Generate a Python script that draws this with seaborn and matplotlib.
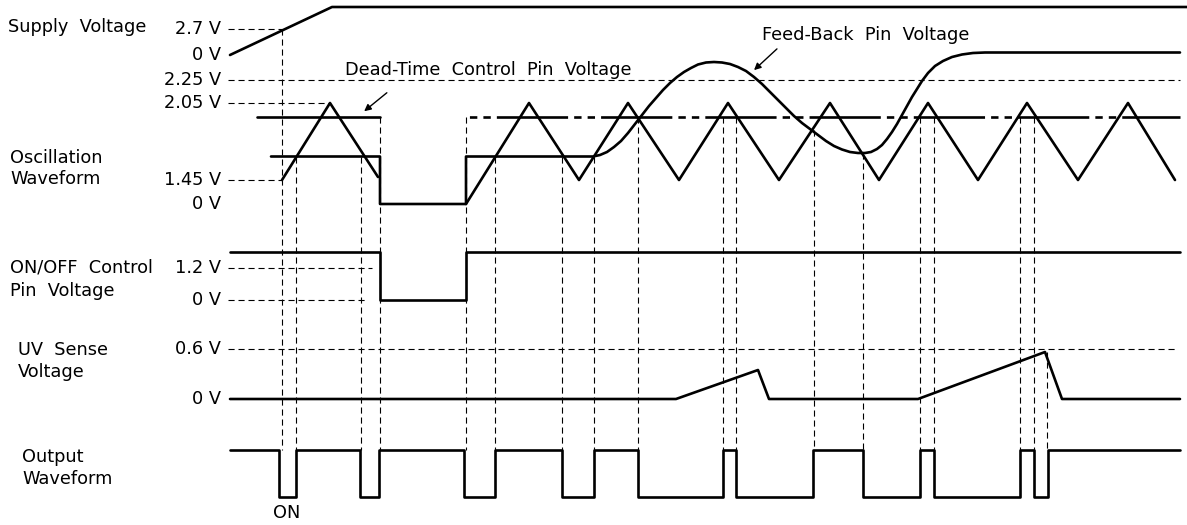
import numpy as np
import pandas as pd
import matplotlib
matplotlib.use("Agg")
import matplotlib.pyplot as plt
import seaborn as sns

# ---- time axis is in drawing units (left -> right), levels are heights above each lane's 0 V ----

# Supply voltage
supply_t = [230, 332, 1187]
supply_v = [0, 48, 48]

# Oscillation (triangle) waveform, two pieces (before and after the ON/OFF gap)
osc1_t = [282, 330, 378]
osc1_v = [24, 101, 27]
osc2_t = [466, 529, 579, 628, 679, 728, 779, 830, 879, 928, 978, 1027, 1078, 1128, 1175]
osc2_v = [0, 101, 24, 101, 24, 101, 24, 101, 24, 101, 24, 101, 24, 101, 24]

# Feed-back pin voltage
fb_t = [271, 380, 380, 466, 466, 593, 600, 607, 614, 621, 628, 635, 642, 649, 656,
        663, 670, 677, 684, 691, 698, 706, 714, 722, 730, 738, 746, 754, 762, 770,
        778, 786, 794, 802, 810, 818, 826, 834, 842, 850, 858, 865, 871, 877, 882,
        887, 892, 897, 902, 907, 912, 917, 922, 928, 935, 943, 952, 962, 973, 985, 1180]
fb_v = [47.5, 47.5, 0, 0, 47.5, 47.5, 49, 52, 57, 63, 71, 80, 89, 98, 106,
        114, 121, 127, 132, 136, 139.5, 141.5, 142, 141.5, 140, 137, 133, 127, 120, 112,
        104, 96, 88, 81, 75, 69, 63, 58, 54.5, 52, 51, 51, 52, 55, 59,
        65, 72, 80, 89, 98, 107, 115, 123, 131, 138, 143, 147, 149.5, 151, 151.5, 151.5]

# Dead-time control pin voltage
dt_level = 87.5
dt1_t = [257, 380]
dt2_t = [466, 1180]

# ON/OFF control pin voltage
onoff_t = [230, 380, 380, 466, 466, 1180]
onoff_v = [48, 48, 0, 0, 48, 48]

# UV sense voltage
uv_t = [230, 676, 758, 769, 918, 1045, 1062, 1180]
uv_v = [0, 0, 29, 0, 0, 47, 0, 0]

# Output waveform edges
out_edges = [279, 296, 360, 379, 464, 495, 562, 594, 638, 723, 736, 813, 863, 920,
             934, 1020, 1034, 1048]
out_hi, out_lo = 47, 0

# Timing guides: (time, lane, level where the guide starts)
guides = [(282, "supply", 26), (296, "osc", 47.5), (361, "osc", 47.5), (380, "osc", 87.5),
          (466, "osc", 87.5), (495, "osc", 47.5), (562, "osc", 47.5), (594, "osc", 47.5),
          (638, "osc", 87.5), (723, "osc", 87.5), (736, "osc", 87.5), (814, "osc", 74),
          (863, "osc", 51), (920, "osc", 87.5), (934, "osc", 87.5), (1020, "osc", 87.5),
          (1034, "osc", 87.5), (1047, "uv", 47)]

# Reference levels: (lane, label, level, dashed line end)
ref_levels = [("supply", "2.7 V", 26, 282), ("supply", "0 V", 0, None),
              ("osc", "2.25 V", 124, 1180), ("osc", "2.05 V", 101, 330),
              ("osc", "1.45 V", 24, 282), ("osc", "0 V", 0, None),
              ("onoff", "1.2 V", 32, 372), ("onoff", "0 V", 0, 366),
              ("uv", "0.6 V", 50, 1178), ("uv", "0 V", 0, None)]

lane_names = [("supply", ["Supply  Voltage"]), ("osc", ["Oscillation", "Waveform"]),
              ("onoff", ["ON/OFF  Control", "Pin  Voltage"]), ("uv", ["UV  Sense", "Voltage"]),
              ("out", ["Output", "Waveform"])]

# ---- layout ----
lane_base = {"supply": 55, "osc": 204, "onoff": 300, "uv": 399, "out": 497}
name_pos = {"supply": (8, 27, 0), "osc": (10, 158, 21), "onoff": (10, 268, 23),
            "uv": (18, 350, 22), "out": (22, 457, 22)}

sns.set_theme(style="white")
plt.rcParams["font.family"] = ["DejaVu Sans"]
FS = 12.8

fig = plt.figure(figsize=(11.87, 5.25), dpi=100)
ax = fig.add_axes([0, 0, 1, 1])
ax.set_xlim(0, 1187)
ax.set_ylim(525, 0)
ax.axis("off")

K = "black"
THICK = 1.9
THIN = 0.8
DASH = (0, (5.5, 3.5))


def Y(lane, v):
    return [lane_base[lane] - x for x in np.atleast_1d(v)]


def trace(t, v, lane, lw=THICK):
    df = pd.DataFrame({"t": t, "y": Y(lane, v)})
    sns.lineplot(data=df, x="t", y="y", sort=False, estimator=None, color=K,
                 linewidth=lw, ax=ax, legend=False)
    return ax.lines[-1]


# reference dashed lines and voltage labels
for lane, lab, lev, end in ref_levels:
    y = Y(lane, lev)[0]
    ax.text(221, y, lab, ha="right", va="center", fontsize=FS, color=K)
    if end is not None:
        ax.plot([228, end], [y, y], color=K, lw=THIN, linestyle=DASH)

# timing guides
bottom = Y("out", out_hi)[0]
for t, lane, lev in guides:
    ax.plot([t, t], [Y(lane, lev)[0], bottom], color=K, lw=THIN, linestyle=DASH)

# signals
trace(supply_t, supply_v, "supply")
trace(osc1_t, osc1_v, "osc")
trace(osc2_t, osc2_v, "osc")
trace(fb_t, fb_v, "osc")
trace(dt1_t, [dt_level] * 2, "osc")
dt_line = trace(dt2_t, [dt_level] * 2, "osc")
# long dash around each triangle peak, short dashes in between
dt_line.set_linestyle((28, (27, 2.3, 2.8, 2.3, 2.8, 2.3)))
trace(onoff_t, onoff_v, "onoff")
trace(uv_t, uv_v, "uv")

out_t = [230]
out_v = [out_hi]
level = out_hi
for e in out_edges:
    out_t += [e, e]
    nxt = out_lo if level == out_hi else out_hi
    out_v += [level, nxt]
    level = nxt
out_t.append(1180)
out_v.append(level)
trace(out_t, out_v, "out")

# lane names
for lane, lines in lane_names:
    x, y, dy = name_pos[lane]
    for i, s in enumerate(lines):
        ax.text(x, y + i * dy, s, ha="left", va="center", fontsize=FS, color=K)

ax.text(287, 513, "ON", ha="center", va="center", fontsize=FS, color=K)

# callouts
ax.annotate("", xy=(362, 113), xytext=(389, 91),
            arrowprops=dict(arrowstyle="-|>", color=K, lw=1, mutation_scale=10))
ax.text(345, 70, "Dead-Time  Control  Pin  Voltage", ha="left", va="center", fontsize=FS, color=K)
ax.annotate("", xy=(752, 72), xytext=(779, 47),
            arrowprops=dict(arrowstyle="-|>", color=K, lw=1, mutation_scale=10))
ax.text(762, 35, "Feed-Back  Pin  Voltage", ha="left", va="center", fontsize=FS, color=K)

fig.savefig("out.png", dpi=100, facecolor="white")
